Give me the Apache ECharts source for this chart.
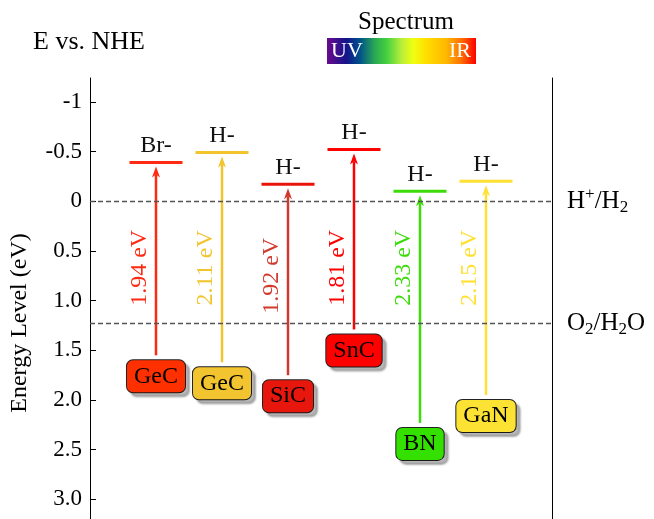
<!DOCTYPE html>
<html><head><meta charset="utf-8">
<script src="https://cdn.jsdelivr.net/npm/echarts@6/dist/echarts.min.js"></script>
<style>html,body{margin:0;padding:0;background:#fff}#c{width:654px;height:519px}</style>
</head><body><div id="c"></div>
<script>
// ---- data ----
const materials = ['GeC', 'GeC', 'SiC', 'SnC', 'BN', 'GaN'];
const positions = [1, 2, 3, 4, 5, 6];
const cbLevels = [-0.39, -0.49, -0.17, -0.52, -0.10, -0.20];
const bandGaps = [1.94, 2.11, 1.92, 1.81, 2.33, 2.15];
const cbLabels = ['Br-', 'H-', 'H-', 'H-', 'H-', 'H-'];
const gapLabelLevels = [0.67, 0.67, 0.75, 0.67, 0.67, 0.67];
const refLevels = [0, 1.23];
const refLabels = ['{n|H}{sup|+}{n|/H}{sub|2}', '{n|O}{sub|2}{n|/H}{sub|2}{n|O}'];
const tickValues = [-1, -0.5, 0, 0.5, 1, 1.5, 2, 2.5, 3];
const tickLabels = ['-1', '-0.5', '0', '0.5', '1.0', '1.5', '2.0', '2.5', '3.0'];

// ---- styles ----
const FF = '"Liberation Serif", "DejaVu Serif", serif';
const lineColors = ['#ff2a12', '#f2c42e', '#e8130a', '#ff0000', '#3bdc0a', '#ffe033'];
const arrowColors = ['#ff2a12', '#f2c42e', '#d03a2e', '#ff0000', '#3bdc0a', '#ffe033'];
const textColors = ['#ff2a12', '#f2c42e', '#d13b2e', '#ff0000', '#3bdc0a', '#ffe033'];
const boxColors = ['#ff3000', '#f2c530', '#e8170d', '#ff0000', '#33e000', '#fce233'];

const chart = echarts.init(document.getElementById('c'), null, {renderer: 'canvas'});

const data = materials.map((m, i) => [positions[i], cbLevels[i], +(cbLevels[i] + bandGaps[i]).toFixed(2), gapLabelLevels[i], i]);

function renderItem(params, api) {
  const i = api.value(4);
  const x = api.value(0);
  const cb = api.coord([x, api.value(1)]);
  const vb = api.coord([x, api.value(2)]);
  const lab = api.coord([x, api.value(3)]);
  const halfW = 26.5;
  return {
    type: 'group',
    children: [
      {type: 'line', shape: {x1: cb[0] - halfW, y1: cb[1], x2: cb[0] + halfW, y2: cb[1]},
        style: {stroke: lineColors[i], lineWidth: 3}},
      {type: 'text', x: cb[0], y: cb[1] - 5,
        style: {text: cbLabels[i], fontFamily: FF, fontSize: 24, fill: '#111', align: 'center', verticalAlign: 'bottom'}},
      {type: 'line', shape: {x1: vb[0], y1: vb[1], x2: cb[0], y2: cb[1] + 12},
        style: {stroke: arrowColors[i], lineWidth: 2.5}},
      {type: 'polygon', shape: {points: [[cb[0], cb[1] + 4], [cb[0] - 4, cb[1] + 15], [cb[0], cb[1] + 12], [cb[0] + 4, cb[1] + 15]]},
        style: {fill: arrowColors[i]}},
      {type: 'text', x: lab[0] - 16, y: lab[1], rotation: Math.PI / 2,
        style: {text: bandGaps[i].toFixed(2) + ' eV', align: 'center', verticalAlign: 'middle',
          fill: textColors[i], fontSize: 24, fontFamily: FF}},
      {type: 'text', x: vb[0], y: vb[1] + 5, z2: 10,
        style: {text: materials[i], align: 'center', verticalAlign: 'top', fontSize: 24, lineHeight: 24,
          fontFamily: FF, fill: '#000', backgroundColor: boxColors[i], borderColor: '#222', borderWidth: 1,
          borderRadius: 6, padding: [4, 7, 4, 7], shadowColor: 'rgba(0,0,0,0.28)', shadowBlur: 2,
          shadowOffsetX: 4, shadowOffsetY: 4}}
    ]
  };
}

const option = {
  animation: false,
  backgroundColor: '#fff',
  grid: {left: 90, right: 102, top: 78, height: 490, outerBoundsMode: 'none', containLabel: false},
  xAxis: {type: 'value', min: 0, max: 7, show: false},
  yAxis: [{
    type: 'value', inverse: true, min: -1.24, max: 3.69,
    name: 'Energy Level (eV)', nameLocation: 'middle', nameGap: 58,
    nameTextStyle: {fontFamily: FF, fontSize: 24, color: '#000'},
    axisLine: {show: true, lineStyle: {color: '#000', width: 1}},
    axisTick: {show: true, inside: true, length: 6, lineStyle: {color: '#000'}, customValues: tickValues},
    axisLabel: {show: true, margin: 8, fontFamily: FF, fontSize: 23, color: '#000', customValues: tickValues,
      formatter: v => { const k = tickValues.findIndex(t => Math.abs(t - v) < 1e-6); return k >= 0 ? tickLabels[k] : ''; }},
    splitLine: {show: false}
  }, {
    type: 'value', inverse: true, min: -1.24, max: 3.69, position: 'right',
    axisLine: {show: true, lineStyle: {color: '#000', width: 1}},
    axisTick: {show: false}, axisLabel: {show: false}, splitLine: {show: false}
  }],
  graphic: [
    {type: 'text', x: 33, y: 42, style: {text: 'E vs. NHE', fontFamily: FF, fontSize: 26, fill: '#000', verticalAlign: 'middle'}},
    {type: 'text', x: 406, y: 22, style: {text: 'Spectrum', fontFamily: FF, fontSize: 25, fill: '#000', align: 'center', verticalAlign: 'middle'}},
    {type: 'rect', shape: {x: 327, y: 38, width: 149, height: 26},
      style: {fill: new echarts.graphic.LinearGradient(0, 0, 1, 0, [
        {offset: 0, color: '#6a0a8e'}, {offset: 0.13, color: '#14148a'}, {offset: 0.22, color: '#00508a'},
        {offset: 0.32, color: '#2aa855'}, {offset: 0.4, color: '#44d040'}, {offset: 0.5, color: '#b8ee3a'},
        {offset: 0.58, color: '#f0ff10'}, {offset: 0.66, color: '#ffe000'}, {offset: 0.8, color: '#ffb800'},
        {offset: 0.9, color: '#ff7000'}, {offset: 1, color: '#ff0000'}])}},
    {type: 'text', x: 331, y: 51, style: {text: 'UV', fontFamily: FF, fontSize: 22, fill: '#fff', verticalAlign: 'middle'}},
    {type: 'text', x: 471, y: 51, style: {text: 'IR', fontFamily: FF, fontSize: 22, fill: '#fff', align: 'right', verticalAlign: 'middle'}}
  ],
  series: [{
    type: 'line', data: [], xAxisIndex: 0, yAxisIndex: 0,
    markLine: {
      silent: true, symbol: 'none',
      lineStyle: {color: '#555', width: 1.3, type: [5, 3]},
      label: {show: true, position: 'end', distance: 15, color: '#000',
        formatter: p => refLabels[refLevels.indexOf(p.value)],
        rich: {
          n: {fontFamily: FF, fontSize: 25, lineHeight: 30, verticalAlign: 'middle'},
          sup: {fontFamily: FF, fontSize: 17, verticalAlign: 'top', lineHeight: 30},
          sub: {fontFamily: FF, fontSize: 17, verticalAlign: 'bottom', lineHeight: 24}
        }},
      data: refLevels.map(v => ({yAxis: v}))
    }
  }, {
    type: 'custom', renderItem: renderItem, data: data, xAxisIndex: 0, yAxisIndex: 0,
    encode: {x: 0, y: [1, 2]}, clip: false
  }]
};
chart.setOption(option);
</script>
</body></html>
